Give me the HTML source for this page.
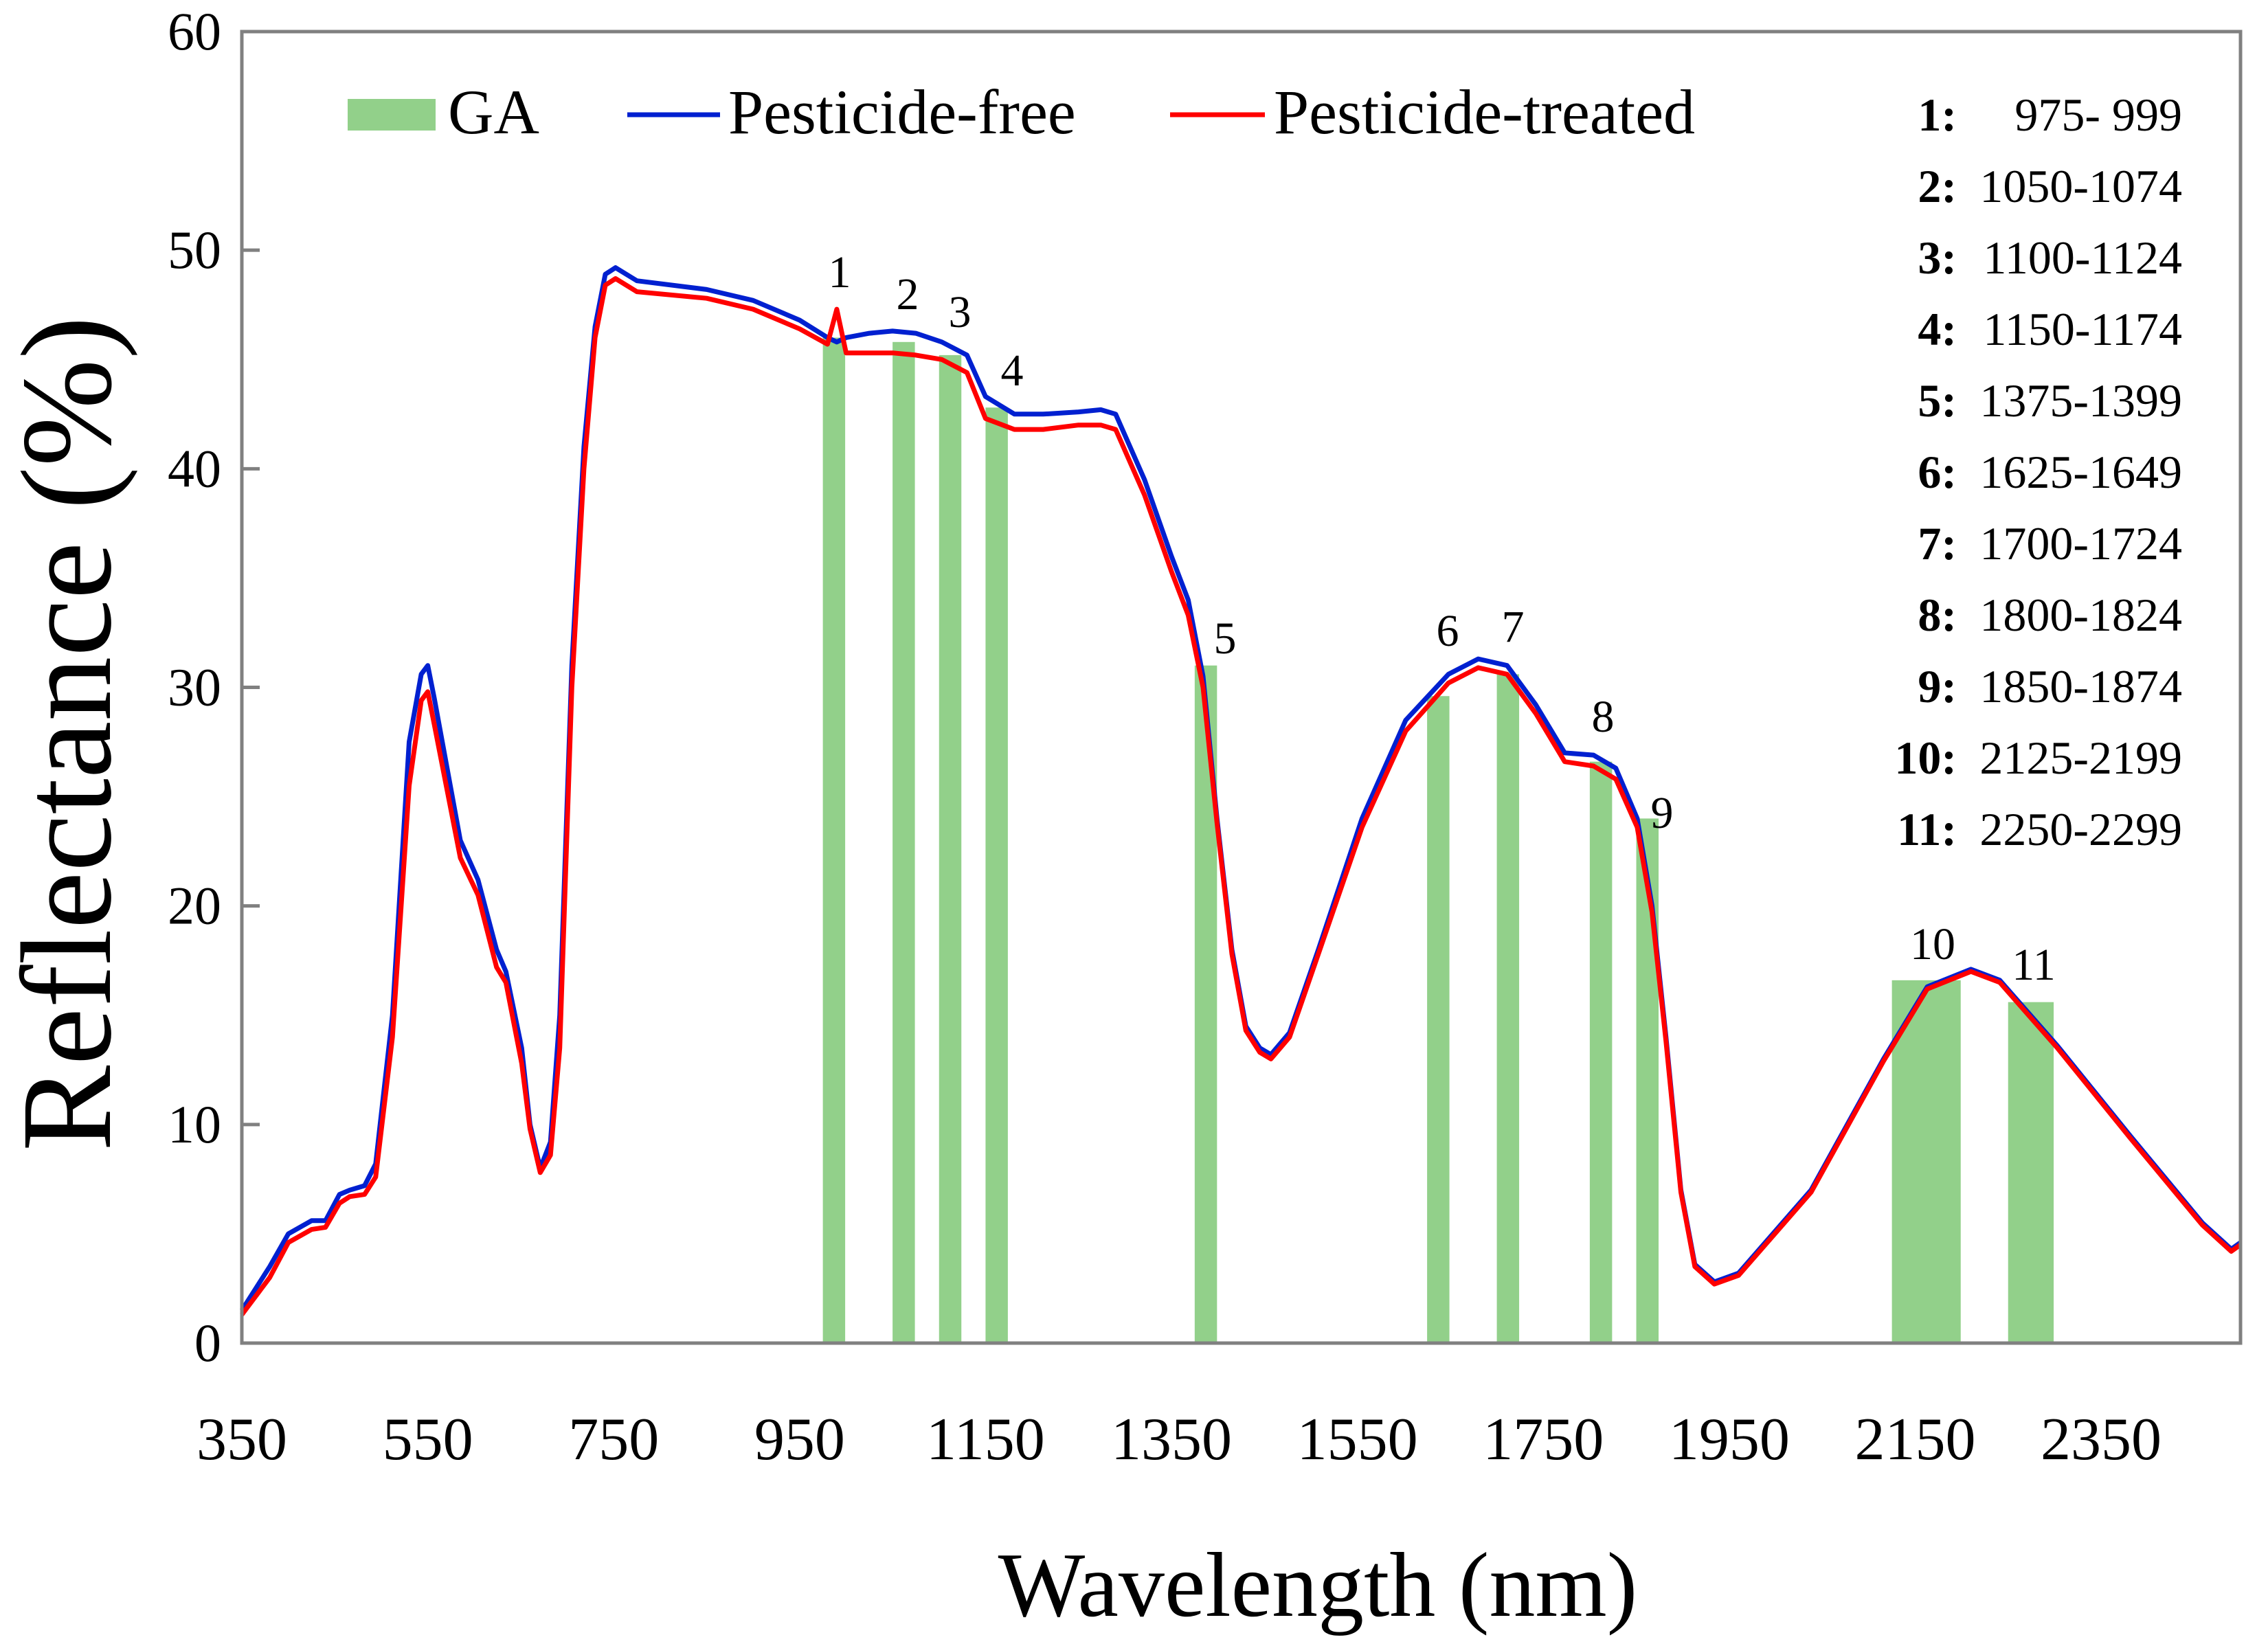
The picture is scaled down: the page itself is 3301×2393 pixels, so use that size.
<!DOCTYPE html>
<html><head><meta charset="utf-8"><style>
html,body{margin:0;padding:0;background:#fff;}
svg{display:block;font-family:"Liberation Serif",serif;}
</style></head><body>
<svg id="chart" width="3301" height="2393" viewBox="0 0 3301 2393" xmlns="http://www.w3.org/2000/svg">
<g id="bars"></g>
<g id="lines"></g>
<g id="axes"></g>
<g id="labels"></g>
<g>
  <rect x="506" y="144" width="128" height="46" fill="#92d08a"/>
  <text x="652" y="194" font-size="92">GA</text>
  <line x1="913" y1="167" x2="1048" y2="167" stroke="#0020d0" stroke-width="7"/>
  <text x="1060" y="194" font-size="92">Pesticide-free</text>
  <line x1="1703" y1="167" x2="1841" y2="167" stroke="#ff0000" stroke-width="7"/>
  <text x="1854" y="194" font-size="92">Pesticide-treated</text>
</g>
<g id="bandlist"></g>
<text transform="translate(160,1068) rotate(-90)" text-anchor="middle" font-size="188">Reflectance (%)</text>
<text x="1918" y="2352" text-anchor="middle" font-size="134">Wavelength (nm)</text>
</svg>
<script>
const wl =      [350,380,400,425,440,455,466,482,494,512,530,543,550,557,585,604,624,634,651,660,671,682,692,705,718,730,741,752,775,850,900,950,980,990,1000,1025,1050,1075,1103,1130,1150,1181,1212,1250,1274,1290,1321,1350,1368,1384,1399,1415,1430,1445,1457,1477,1508,1555,1602,1648,1680,1711,1742,1773,1804,1828,1851,1867,1882,1898,1913,1934,1960,2038,2116,2163,2210,2241,2303,2381,2459,2490,2500];
const freeV =   [1.5,3.5,5,5.6,5.6,6.8,7,7.2,8.2,15,27.5,30.6,31,29.5,23,21.2,18,17,13.5,10,8,9.2,15,31,41,46.5,48.9,49.2,48.6,48.2,47.7,46.8,46.0,45.8,46.0,46.2,46.3,46.2,45.8,45.2,43.3,42.5,42.5,42.6,42.7,42.5,39.5,36,34,30.5,24,18,14.5,13.5,13.2,14.2,18,24,28.5,30.6,31.3,31.0,29.2,27,26.9,26.3,24,20,14,7,3.6,2.8,3.2,7,13,16.3,17.1,16.6,13.6,9.5,5.5,4.3,4.6];
const treatV =  [1.3,3.0,4.6,5.2,5.3,6.4,6.7,6.8,7.6,14,25.5,29.4,29.8,28.3,22.2,20.5,17.2,16.5,12.8,9.8,7.8,8.6,13.5,30,40,46,48.4,48.7,48.1,47.8,47.3,46.4,45.7,47.3,45.3,45.3,45.3,45.2,45.0,44.4,42.3,41.8,41.8,42.0,42.0,41.8,38.8,35.3,33.3,30.0,23.8,17.8,14.3,13.3,13.0,14.0,17.8,23.6,28,30.2,30.9,30.6,28.8,26.6,26.4,25.8,23.6,19.7,13.8,6.9,3.5,2.7,3.1,6.9,12.9,16.2,17.0,16.5,13.5,9.4,5.4,4.2,4.5];
const bandStart = [975,1050,1100,1150,1375,1625,1700,1800,1850,2125,2250];
const bandEnd   = [999,1074,1124,1174,1399,1649,1724,1824,1874,2199,2299];
const bandTop   = [46,45.8,45.2,42.8,31,29.6,30.6,26.6,24,16.6,15.6];
const bandNames = ["1","2","3","4","5","6","7","8","9","10","11"];
const bandRanges = ["975- 999","1050-1074","1100-1124","1150-1174","1375-1399","1625-1649","1700-1724","1800-1824","1850-1874","2125-2199","2250-2299"];
const xTicks = [350,550,750,950,1150,1350,1550,1750,1950,2150,2350];
const yTicks = [0,10,20,30,40,50,60];

const X0=352,X1=3261,Y0=1955,Y1=46;
const xs = v => X0 + (v-350)/(2500-350)*(X1-X0);
const ys = v => Y0 - v/60*(Y0-Y1);
const NS="http://www.w3.org/2000/svg";
function mk(tag,attrs,parent){const e=document.createElementNS(NS,tag);for(const k in attrs)e.setAttribute(k,attrs[k]);parent.appendChild(e);return e;}

const bars=document.getElementById('bars');
bandStart.forEach((s,i)=>{
  const r=mk('rect',{x:xs(s),y:ys(bandTop[i]),width:xs(bandEnd[i])-xs(s),height:Y0-ys(bandTop[i]),fill:'#92d08a'},bars);
  
  
});

const lines=document.getElementById('lines');
function path(vals){return wl.map((w,i)=>(i?'L':'M')+xs(w).toFixed(1)+' '+ys(vals[i]).toFixed(1)).join(' ');}
const pf=mk('path',{d:path(freeV),fill:'none',stroke:'#0020d0','stroke-width':7,'stroke-linejoin':'round'},lines);


const pt=mk('path',{d:path(treatV),fill:'none',stroke:'#ff0000','stroke-width':7,'stroke-linejoin':'round'},lines);



const axes=document.getElementById('axes');
const fr=mk('rect',{x:X0,y:Y1,width:X1-X0,height:Y0-Y1,fill:'none',stroke:'#808080','stroke-width':5},axes);


yTicks.forEach(v=>{
  const y=ys(v);
  if(v>0&&v<60){const t=mk('line',{x1:X0,y1:y,x2:X0+26,y2:y,stroke:'#808080','stroke-width':5},axes);
    
    }
  const l=mk('text',{x:X0-30,y:y+26,'text-anchor':'end','font-size':78},axes);
  l.textContent=v;
  
  
});
xTicks.forEach(v=>{
  const l=mk('text',{x:xs(v),y:2124,'text-anchor':'middle','font-size':88},axes);
  l.textContent=v;
  
  
});

const labelPos=[[1222,418],[1321,450],[1397,476],[1473,561],[1783,951],[2107,940],[2202,934],[2333,1065],[2419,1205],[2813,1396],[2960,1426]];
const labels=document.getElementById('labels');
bandNames.forEach((n,i)=>{
  const t=mk('text',{x:labelPos[i][0],y:labelPos[i][1],'text-anchor':'middle','font-size':66},labels);
  t.textContent=n;
  
  
});

const bl=document.getElementById('bandlist');
bandNames.forEach((n,i)=>{
  const y=190+i*104;
  const a=mk('text',{x:2848,y:y,'text-anchor':'end','font-size':68,'font-weight':'bold'},bl);
  a.textContent=n+':';
  
  
  const b=mk('text',{x:3176,y:y,'text-anchor':'end','font-size':68,'xml:space':'preserve'},bl);
  b.textContent=bandRanges[i];
  
  
});
</script>
</body></html>
